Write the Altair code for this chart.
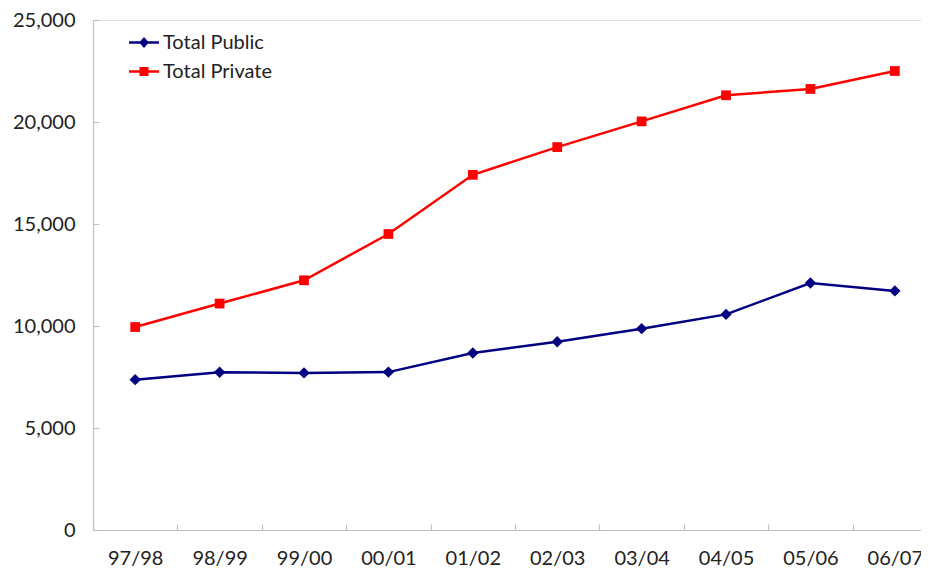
import altair as alt
import pandas as pd

periods = ["97/98", "98/99", "99/00", "00/01", "01/02", "02/03", "03/04", "04/05", "05/06", "06/07"]
total_public = [7370, 7730, 7700, 7740, 8680, 9230, 9870, 10570, 12110, 11720]
total_private = [9950, 11100, 12240, 14510, 17410, 18770, 20030, 21310, 21620, 22500]
series_names = ["Total Public", "Total Private"]
series_colors = ["#000080", "#FF0000"]
y_ticks = [0, 5000, 10000, 15000, 20000, 25000]

rows = []
for i, (p, v) in enumerate(zip(periods, total_public)):
    rows.append({"idx": i, "period": p, "series": "Total Public", "value": v})
for i, (p, v) in enumerate(zip(periods, total_private)):
    rows.append({"idx": i, "period": p, "series": "Total Private", "value": v})
df = pd.DataFrame(rows)

FONT = "Lato"
AXIS_GREY = "#c0c0c0"
TEXT = "#222222"

n = len(periods)
label_values = list(range(n))
boundary_values = [i + 0.5 for i in range(-1, n)]
period_array = "[" + ",".join("'" + p + "'" for p in periods) + "]"

# the last category band runs past the right edge of the picture, as in the reference
xscale = alt.Scale(domain=[-0.5, 9.31], nice=False, zero=False)
yscale = alt.Scale(domain=[0, 25000], nice=False)

# legend glyphs: a short line with the marker on top (same winding so they union)
pub_sym = "M-1,-0.085L1,-0.085L1,0.085L-1,0.085Z M0,-0.37L0.33,0L0,0.37L-0.33,0Z"
pri_sym = "M-1,-0.085L1,-0.085L1,0.085L-1,0.085Z M-0.3,-0.3L0.3,-0.3L0.3,0.3L-0.3,0.3Z"

legend = alt.Legend(
    title=None,
    orient="none",
    legendX=35,
    legendY=6.5,
    padding=0,
    rowPadding=3,
    symbolSize=900,
    symbolOpacity=1,
    labelFont=FONT,
    labelFontSize=20,
    labelColor=TEXT,
    labelOffset=3,
)

main_x = alt.X("idx:Q", scale=xscale,
               axis=alt.Axis(orient="bottom", title=None, ticks=False, domain=True,
                             domainColor=AXIS_GREY, domainWidth=1.2, labelAngle=0,
                             values=label_values,
                             labelExpr=period_array + "[datum.value]",
                             labelFont=FONT, labelFontSize=20, labelColor=TEXT,
                             labelPadding=18, labelFlush=False, labelOverlap=False,
                             grid=False))
main_y = alt.Y("value:Q", scale=yscale,
               axis=alt.Axis(orient="left", title=None, ticks=False, domain=True,
                             domainColor=AXIS_GREY, domainWidth=1.2, values=y_ticks,
                             labelExpr="format(datum.value, ',')",
                             labelFont=FONT, labelFontSize=20,
                             labelColor=TEXT, labelPadding=18, grid=False))
tick_x = alt.X("idx:Q", scale=xscale,
               axis=alt.Axis(orient="bottom", title=None, labels=False, domain=False,
                             ticks=True, values=boundary_values, tickSize=6,
                             tickColor=AXIS_GREY, tickWidth=1.2, offset=-6, grid=False))
tick_y = alt.Y("value:Q", scale=yscale,
               axis=alt.Axis(orient="left", title=None, labels=False, domain=False,
                             ticks=True, tickSize=6, tickColor=AXIS_GREY, tickWidth=1.2,
                             values=y_ticks, offset=-6, grid=False))
plain_x = alt.X("idx:Q", scale=xscale, axis=None)
plain_y = alt.Y("value:Q", scale=yscale, axis=None)

base = alt.Chart(df)

pub_line = base.transform_filter("datum.series == 'Total Public'").mark_line(
    strokeWidth=2.5, color=series_colors[0]).encode(x=main_x, y=main_y)
pri_line = base.transform_filter("datum.series == 'Total Private'").mark_line(
    strokeWidth=2.5, color=series_colors[1]).encode(x=tick_x, y=tick_y)
pub_pts = base.transform_filter("datum.series == 'Total Public'").mark_point(
    filled=True, opacity=1, shape="diamond", size=130, color=series_colors[0]).encode(x=plain_x, y=plain_y)
pri_pts = base.transform_filter("datum.series == 'Total Private'").mark_point(
    filled=True, opacity=1, shape="square", size=95, color=series_colors[1]).encode(x=plain_x, y=plain_y)

legend_layer = base.transform_filter("datum.value < 0").mark_point(
    filled=True, opacity=1, size=900
).encode(
    x=plain_x,
    y=plain_y,
    color=alt.Color("series:N", scale=alt.Scale(domain=series_names, range=series_colors),
                    sort=series_names, legend=legend),
    shape=alt.Shape("series:N", scale=alt.Scale(domain=series_names, range=[pub_sym, pri_sym]),
                    sort=series_names, legend=legend),
)

chart = alt.layer(pub_line, pri_line, pub_pts, pri_pts, legend_layer).resolve_axis(
    x="independent", y="independent"
).properties(
    width=828,
    height=510,
    autosize=alt.AutoSizeParams(type="none"),
    padding={"left": 85, "top": 12, "right": 0, "bottom": 39},
).configure_view(stroke=None).configure(background="white")

chart.save("out.html", embed_options={"renderer": "svg", "actions": False})
